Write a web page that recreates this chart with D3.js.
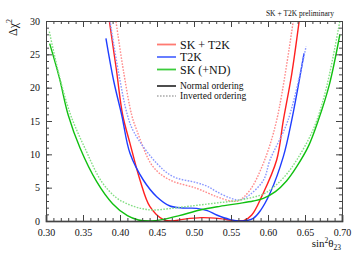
<!DOCTYPE html>
<html>
<head>
<meta charset="utf-8">
<script src="https://cdn.jsdelivr.net/npm/d3@7"></script>
<style>
  html, body { margin: 0; padding: 0; background: #fff; }
  svg { display: block; }
  svg text { font-family: "Liberation Serif", "Times New Roman", serif; }
</style>
</head>
<body>
<div id="chart"></div>
<script>
// sin^2(theta23) vs delta chi^2
const skT2kNormal = [[0.3856, 30], [0.395, 22.8], [0.4036, 15.9], [0.4135, 11.65], [0.427, 6.15], [0.4405, 2.15], [0.458, 0.25], [0.47, 0.0], [0.485, 0.25], [0.51, 0.5], [0.535, 0.35], [0.555, 0.05], [0.567, 0.05], [0.578, 0.9], [0.592, 3.8], [0.6117, 9.15], [0.6207, 15.1], [0.632, 22], [0.642, 29.9]];
const skT2kInverted = [[0.3946, 29.9], [0.405, 22.3], [0.4158, 15.9], [0.4225, 13.65], [0.4446, 8.15], [0.4676, 6.15], [0.5036, 4.9], [0.5306, 3.65], [0.55, 3.0], [0.5604, 3.05], [0.5757, 4.65], [0.5937, 8.65], [0.6117, 15.1], [0.634, 29.9]];
const t2kNormal = [[0.381, 27.4], [0.3915, 21], [0.4023, 15.9], [0.4135, 10.15], [0.4315, 6.15], [0.4496, 3.65], [0.4676, 2.25], [0.485, 1.95], [0.5036, 1.9], [0.518, 1.55], [0.5306, 0.9], [0.548, 0.25], [0.565, 0.0], [0.58, 0.4], [0.59, 1.6], [0.6027, 4.15], [0.6207, 9.65], [0.632, 15.1], [0.6487, 25.15]];
const t2kInverted = [[0.3865, 30], [0.398, 22.3], [0.41, 15.9], [0.419, 13.3], [0.4496, 8.65], [0.472, 6.65], [0.5036, 5.75], [0.518, 5.2], [0.5306, 4.4], [0.55, 3.4], [0.562, 3.15], [0.575, 3.9], [0.594, 6.15], [0.6027, 9.15], [0.627, 15.1], [0.6514, 26.15]];
const skNormal = [[0.305, 26.6], [0.318, 21.5], [0.33, 15.9], [0.346, 10.95], [0.3685, 5.9], [0.39, 2.6], [0.41, 0.8], [0.425, 0.15], [0.44, 0.0], [0.4586, 0.25], [0.48, 0.8], [0.508, 1.65], [0.535, 2.2], [0.562, 2.65], [0.58, 3.0], [0.5937, 3.4], [0.61, 4.4], [0.625, 6.0], [0.6388, 8.15], [0.655, 11.3], [0.668, 15.1], [0.683, 20.5], [0.697, 27.9]];
const skInverted = [[0.3045, 28.4], [0.318, 21.8], [0.3333, 15.9], [0.3527, 10.9], [0.3752, 5.9], [0.395, 3.5], [0.4135, 2.4], [0.43, 1.85], [0.445, 1.65], [0.47, 1.9], [0.5, 2.3], [0.53, 2.7], [0.562, 3.15], [0.5937, 4.05], [0.61, 5.3], [0.625, 7.0], [0.6388, 9.15], [0.655, 12.3], [0.666, 15.1], [0.68, 20.5], [0.697, 29.9]];

const xTicks = [0.30, 0.35, 0.40, 0.45, 0.50, 0.55, 0.60, 0.65, 0.70];
const yTicks = [0, 5, 10, 15, 20, 25, 30];
const experiments = ['SK + T2K', 'T2K', 'SK (+ND)'];
const orderings = ['Normal ordering', 'Inverted ordering'];

const width = 364, height = 258;
const font = '"Liberation Serif", "Times New Roman", serif';

const x = d3.scaleLinear().domain([0.3, 0.7]).range([46, 342]);
const y = d3.scaleLinear().domain([0, 30]).range([221, 21]);

const svg = d3.select('#chart').append('svg')
  .attr('width', width)
  .attr('height', height)
  .attr('font-family', font);

svg.append('clipPath').attr('id', 'plot')
  .append('rect')
  .attr('x', x(0.3)).attr('y', y(30))
  .attr('width', x(0.7) - x(0.3)).attr('height', y(0) - y(30));

// curves
const curves = [
  { data: skT2kNormal, color: '#ff2020', dash: null },
  { data: skT2kInverted, color: '#ff8a8a', dash: '1.6 1.4' },
  { data: t2kNormal, color: '#1f3dff', dash: null },
  { data: t2kInverted, color: '#8a98ff', dash: '1.6 1.4' },
  { data: skNormal, color: '#10c010', dash: null },
  { data: skInverted, color: '#84de84', dash: '1.6 1.4' },
];

const line = d3.line()
  .x((d) => x(d[0]))
  .y((d) => y(d[1]))
  .curve(d3.curveCatmullRom.alpha(0.5));

svg.append('g')
  .attr('clip-path', 'url(#plot)')
  .selectAll('path')
  .data(curves)
  .join('path')
  .attr('fill', 'none')
  .attr('stroke', (d) => d.color)
  .attr('stroke-width', 1.4)
  .attr('stroke-dasharray', (d) => d.dash)
  .attr('d', (d) => line(d.data));

// axes, ROOT style: ticks inside on all four sides
const minorX = d3.range(0.30, 0.7001, 0.01);
const minorY = d3.range(0, 30.001, 1);

function styleAxis(g) {
  g.attr('font-family', font);
  g.selectAll('.domain').attr('stroke', '#444');
  g.selectAll('.tick line').attr('stroke', '#444');
  g.selectAll('text').attr('fill', '#111');
}

svg.append('g')
  .attr('transform', `translate(0,${y(0)})`)
  .call(d3.axisBottom(x).tickValues(xTicks).tickFormat(d3.format('.2f')).tickSize(-6).tickPadding(8))
  .call(styleAxis)
  .attr('font-size', 10)
  .call((g) => g.select('.domain').attr('stroke', '#000').attr('stroke-width', 1.6));
svg.append('g')
  .attr('transform', `translate(0,${y(0)})`)
  .call(d3.axisBottom(x).tickValues(minorX).tickFormat('').tickSize(-3).tickSizeOuter(0))
  .call(styleAxis);

svg.append('g')
  .attr('transform', `translate(0,${y(30)})`)
  .call(d3.axisTop(x).tickValues(xTicks).tickFormat('').tickSize(-6).tickSizeOuter(0))
  .call(styleAxis);
svg.append('g')
  .attr('transform', `translate(0,${y(30)})`)
  .call(d3.axisTop(x).tickValues(minorX).tickFormat('').tickSize(-3).tickSizeOuter(0))
  .call(styleAxis);

svg.append('g')
  .attr('transform', `translate(${x(0.3)},0)`)
  .call(d3.axisLeft(y).tickValues(yTicks).tickSize(-6).tickPadding(6).tickSizeOuter(0))
  .call(styleAxis)
  .attr('font-size', 10);
svg.append('g')
  .attr('transform', `translate(${x(0.3)},0)`)
  .call(d3.axisLeft(y).tickValues(minorY).tickFormat('').tickSize(-3).tickSizeOuter(0))
  .call(styleAxis);

svg.append('g')
  .attr('transform', `translate(${x(0.7)},0)`)
  .call(d3.axisRight(y).tickValues(yTicks).tickFormat('').tickSize(-6).tickSizeOuter(0))
  .call(styleAxis);
svg.append('g')
  .attr('transform', `translate(${x(0.7)},0)`)
  .call(d3.axisRight(y).tickValues(minorY).tickFormat('').tickSize(-3).tickSizeOuter(0))
  .call(styleAxis);

// axis titles
const yTitle = svg.append('text')
  .attr('transform', `translate(17,${y(30) - 2}) rotate(-90)`)
  .attr('text-anchor', 'end')
  .attr('font-size', 12)
  .attr('fill', '#111');
yTitle.append('tspan').text('\u0394\u03c7');
yTitle.append('tspan').attr('font-size', 8).attr('dy', -5).text('2');

const xTitle = svg.append('text')
  .attr('x', x(0.7) - 1)
  .attr('y', 247)
  .attr('text-anchor', 'end')
  .attr('font-size', 11)
  .attr('fill', '#111');
xTitle.append('tspan').text('sin');
xTitle.append('tspan').attr('font-size', 7.5).attr('dy', -4).text('2');
xTitle.append('tspan').attr('dy', 4).text('\u03b8');
xTitle.append('tspan').attr('font-size', 7.5).attr('dy', 3).text('23');

svg.append('text')
  .attr('x', 334)
  .attr('y', 16)
  .attr('text-anchor', 'end')
  .attr('font-size', 7.5)
  .attr('fill', '#111')
  .text('SK + T2K preliminary');

// legend
const legendColors = ['#ff7a72', '#5670ff', '#3ccc3c'];
const legendRows = [44.5, 57, 69.5];
const legend = svg.append('g');
legend.selectAll('line.exp')
  .data(experiments)
  .join('line')
  .attr('class', 'exp')
  .attr('x1', 157).attr('x2', 176)
  .attr('y1', (d, i) => legendRows[i]).attr('y2', (d, i) => legendRows[i])
  .attr('stroke', (d, i) => legendColors[i])
  .attr('stroke-width', 1.8);
legend.selectAll('text.exp')
  .data(experiments)
  .join('text')
  .attr('class', 'exp')
  .attr('x', 180)
  .attr('y', (d, i) => legendRows[i] + 4)
  .attr('font-size', 12)
  .attr('fill', '#111')
  .text((d) => d);

const orderRows = [86, 96];
legend.selectAll('line.ord')
  .data(orderings)
  .join('line')
  .attr('class', 'ord')
  .attr('x1', 157).attr('x2', 176)
  .attr('y1', (d, i) => orderRows[i]).attr('y2', (d, i) => orderRows[i])
  .attr('stroke', (d, i) => (i ? '#aaa' : '#000'))
  .attr('stroke-width', 1.4)
  .attr('stroke-dasharray', (d, i) => (i ? '1.6 1.4' : null));
legend.selectAll('text.ord')
  .data(orderings)
  .join('text')
  .attr('class', 'ord')
  .attr('x', 180)
  .attr('y', (d, i) => orderRows[i] + 3.2)
  .attr('font-size', 9.5)
  .attr('fill', '#111')
  .text((d) => d);
</script>
</body>
</html>
